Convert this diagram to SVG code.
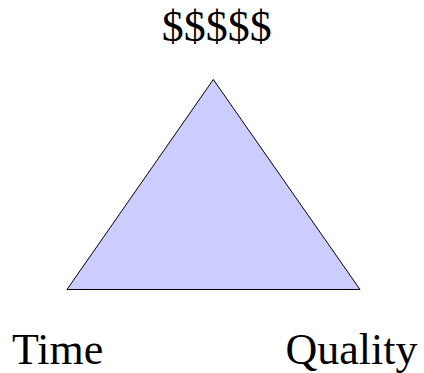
<svg xmlns="http://www.w3.org/2000/svg" width="424" height="373" viewBox="0 0 424 373">
  <style>
    .label { font-family: "Liberation Serif", "Times New Roman", serif; font-size: 44px; fill: #000; }
    .tri { fill: #ccccff; stroke: #000; stroke-width: 1; }
  </style>
  <rect width="424" height="373" fill="#fff"/>
  <g id="triangle">
    <polygon class="tri" points="213.3,79.5 67,289.5 360,289.5"/>
  </g>
  <g id="cost">
    <text class="label" x="161.7" y="41">$$$$$</text>
  </g>
  <g id="time">
    <text class="label" x="12" y="364">Time</text>
  </g>
  <g id="quality">
    <text class="label" x="285.5" y="364">Quality</text>
  </g>
</svg>
